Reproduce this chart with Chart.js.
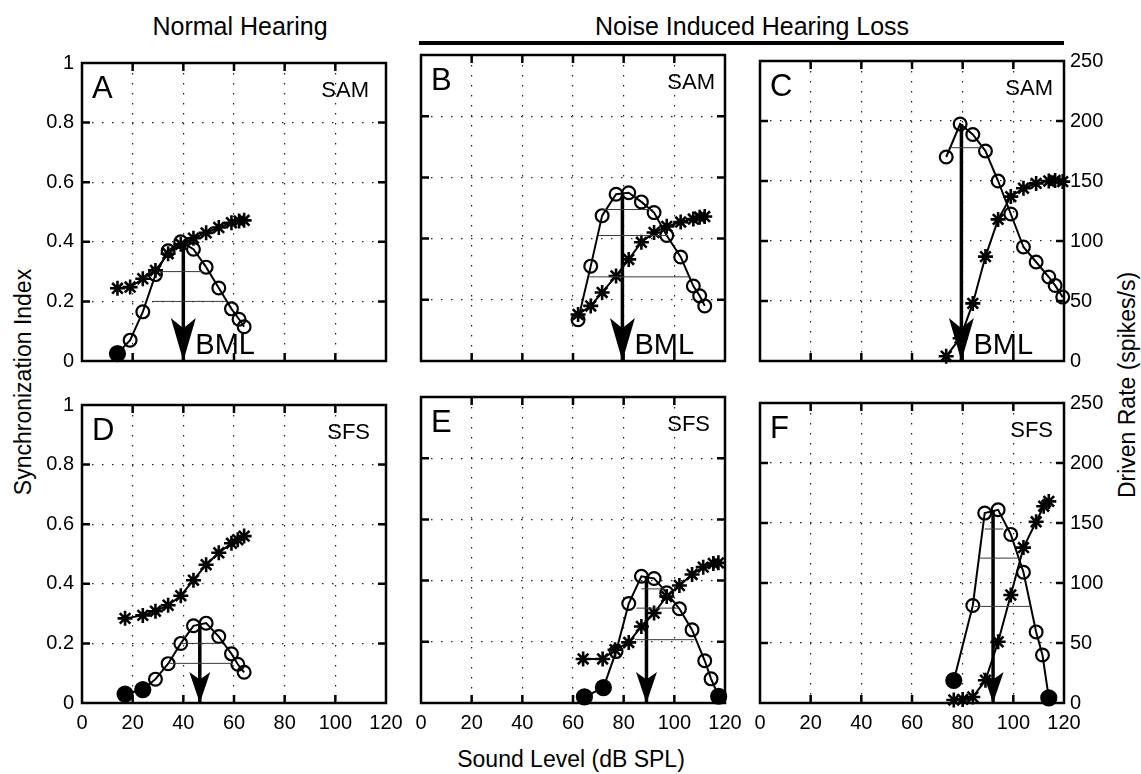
<!DOCTYPE html>
<html>
<head>
<meta charset="utf-8">
<title>Synchronization index and driven rate vs sound level</title>
<script src="https://cdn.jsdelivr.net/npm/chart.js@4.4.1/dist/chart.umd.min.js"></script>
<style>
  html, body { margin: 0; padding: 0; background: #fff; }
  #fig { position: relative; width: 1141px; height: 774px; overflow: hidden;
         font-family: "Liberation Sans", Arial, Helvetica, sans-serif; color: #000; background: #fff; }
  #fig canvas { position: absolute; }
  .lbl { position: absolute; white-space: nowrap; line-height: 1; transform: translate(-50%, -50%); }
  .rot { transform: translate(-50%, -50%) rotate(-90deg); }
  #nihl-bar { position: absolute; left: 419px; top: 41px; width: 645px; height: 4px; background: #000; }
</style>
</head>
<body>
<div id="fig">
  <div class="lbl" style="left:240px; top:26px; font-size:25px;">Normal Hearing</div>
  <div class="lbl" style="left:752px; top:26px; font-size:25px;">Noise Induced Hearing Loss</div>
  <div id="nihl-bar"></div>
  <div class="lbl rot" style="left:23px; top:382px; font-size:23px;">Synchronization Index</div>
  <div class="lbl rot" style="left:1127px; top:385px; font-size:23px;">Driven Rate (spikes/s)</div>
  <div class="lbl" style="left:571px; top:759px; font-size:23px;">Sound Level (dB SPL)</div>
</div>
<script>
// ---- axis ticks ----
const levelTicks = [0, 20, 40, 60, 80, 100, 120];      // dB SPL
const syncTicks  = [0, 0.2, 0.4, 0.6, 0.8, 1];          // synchronization index
const rateTicks  = [0, 50, 100, 150, 200, 250];         // spikes/s

// ---- A: normal hearing, SAM ----
const levelA = [14, 19, 24, 29, 34, 39, 44, 49, 54, 59, 62, 64];
const syncA  = [0.025, 0.07, 0.165, 0.29, 0.37, 0.40, 0.375, 0.315, 0.245, 0.175, 0.14, 0.115];
const rateA  = [61, 62, 69, 76, 90, 98, 103, 107.5, 112, 116, 117.5, 118];
const solidA = [0];
const halfA  = [[0.30, 31, 48], [0.20, 28, 57]];

// ---- B: noise induced hearing loss, SAM ----
const levelB = [62, 67, 71.5, 77, 82, 87, 92, 97, 102.5, 107.5, 110, 112];
const syncB  = [0.135, 0.31, 0.475, 0.545, 0.55, 0.52, 0.485, 0.41, 0.34, 0.245, 0.213, 0.18];
const rateB  = [38, 45, 56, 69.5, 83, 97, 105, 110, 113.5, 116, 117.5, 118];
const solidB = [];
const halfB  = [[0.495, 72, 91.5], [0.41, 70, 97], [0.275, 66.5, 106.5]];

// ---- C: noise induced hearing loss, SAM ----
const levelC = [73.5, 79, 84, 89, 94, 99, 104, 109, 114, 116.5, 119.5];
const syncC  = [0.68, 0.79, 0.755, 0.70, 0.60, 0.49, 0.38, 0.33, 0.28, 0.252, 0.213];
const rateC  = [4, 19, 48, 87, 118, 137, 144, 148, 150, 150.5, 149.5];
const solidC = [];
const halfC  = [[0.711, 75, 88]];

// ---- D: normal hearing, SFS ----
const levelD = [17, 24, 29, 34, 39, 44, 49, 54, 59, 61.5, 64];
const syncD  = [0.03, 0.045, 0.08, 0.132, 0.20, 0.259, 0.268, 0.223, 0.165, 0.13, 0.103];
const rateD  = [71, 73.5, 77, 82, 90, 103, 116, 126, 134, 137, 140];
const solidD = [0, 1];
const halfD  = [[0.20, 39, 54.5], [0.133, 34.5, 59.4]];

// ---- E: noise induced hearing loss, SFS ----
const levelE     = [64.5, 72, 77, 82, 87, 92, 97, 102, 107, 112, 114.5, 117.5];
const syncE      = [0.02, 0.05, 0.168, 0.325, 0.414, 0.407, 0.36, 0.308, 0.239, 0.138, 0.079, 0.022];
const rateLevelE = [64, 71.7, 76.6, 82, 87, 92, 97, 102, 107, 111.4, 115.4, 117.4];
const rateE      = [36, 36, 43.5, 49.5, 62.5, 73.5, 87, 96, 105, 111, 114, 114.5];
const solidE     = [0, 1, 11];
const halfE      = [[0.373, 87, 96], [0.31, 85, 101.4], [0.207, 84.4, 108]];

// ---- F: noise induced hearing loss, SFS ----
const levelF     = [76.5, 84, 88.7, 94, 99, 104, 109, 111.5, 114];
const syncF      = [0.075, 0.325, 0.633, 0.644, 0.562, 0.436, 0.237, 0.16, 0.017];
const rateLevelF = [76.5, 80, 84, 89, 94, 99, 104, 109, 112, 114];
const rateF      = [2.5, 3, 5, 19, 51, 90, 129.5, 151, 164, 168];
const solidF     = [0, 8];
const halfF      = [[0.58, 88.7, 96], [0.483, 86.5, 102.4], [0.322, 84.7, 106.6]];

// ---- best modulation level (arrow) per panel A..F ----
const bmlLevel = [40, 79.5, 79.5, 46.5, 89, 92];
const bmlPeak  = [0.40, 0.55, 0.79, 0.26, 0.414, 0.64];

// ---- panel layout ----
const FONT = '"Liberation Sans", Arial, Helvetica, sans-serif';
const colLeft = [82, 421, 760];
const rowTop  = [55, 397];
const PW = 304, PH = 306;
const PAD_L = 80, PAD_R = 80, PAD_T = 12, PAD_B = 48;

const panels = [
  { letter: 'A', stim: 'SAM', col: 0, row: 0, sx: levelA, sy: syncA, rx: levelA,     ry: rateA, solid: solidA, half: halfA, bmlText: true,  stimInset: 17 },
  { letter: 'B', stim: 'SAM', col: 1, row: 0, sx: levelB, sy: syncB, rx: levelB,     ry: rateB, solid: solidB, half: halfB, bmlText: true,  stimInset: 10 },
  { letter: 'C', stim: 'SAM', col: 2, row: 0, sx: levelC, sy: syncC, rx: levelC,     ry: rateC, solid: solidC, half: halfC, bmlText: true,  stimInset: 11 },
  { letter: 'D', stim: 'SFS', col: 0, row: 1, sx: levelD, sy: syncD, rx: levelD,     ry: rateD, solid: solidD, half: halfD, bmlText: false, stimInset: 16 },
  { letter: 'E', stim: 'SFS', col: 1, row: 1, sx: levelE, sy: syncE, rx: rateLevelE, ry: rateE, solid: solidE, half: halfE, bmlText: false, stimInset: 15 },
  { letter: 'F', stim: 'SFS', col: 2, row: 1, sx: levelF, sy: syncF, rx: rateLevelF, ry: rateF, solid: solidF, half: halfF, bmlText: false, stimInset: 11 }
];

// Box, inward tick marks, BML arrowhead and panel annotations
const panelDecor = {
  id: 'panelDecor',
  beforeDatasetsDraw(chart) {
    const { ctx, chartArea: a, scales } = chart;
    const len = 8;
    ctx.save();
    ctx.strokeStyle = '#000';
    ctx.lineWidth = 2.5;
    ctx.beginPath();
    scales.x.ticks.forEach(t => {
      const px = scales.x.getPixelForValue(t.value);
      if (px <= a.left + 1 || px >= a.right - 1) return;
      ctx.moveTo(px, a.bottom); ctx.lineTo(px, a.bottom - len);
      ctx.moveTo(px, a.top);    ctx.lineTo(px, a.top + len);
    });
    scales.y.ticks.forEach(t => {
      const py = scales.y.getPixelForValue(t.value);
      if (py <= a.top + 1 || py >= a.bottom - 1) return;
      ctx.moveTo(a.left, py);  ctx.lineTo(a.left + len, py);
      ctx.moveTo(a.right, py); ctx.lineTo(a.right - len, py);
    });
    ctx.stroke();
    ctx.strokeRect(a.left, a.top, a.width, a.height);
    ctx.restore();
  },
  afterDatasetsDraw(chart, args, opts) {
    const { ctx, chartArea: a, scales } = chart;
    ctx.save();
    // arrowhead at the bottom of the BML shaft
    const x0 = scales.x.getPixelForValue(opts.bml);
    const y0 = scales.y.getPixelForValue(0);
    const hl = opts.headLen, hw = opts.headHalf;
    ctx.fillStyle = '#000';
    ctx.beginPath();
    ctx.moveTo(x0, y0);
    ctx.lineTo(x0 - hw, y0 - hl);
    ctx.lineTo(x0, y0 - hl * 0.76);
    ctx.lineTo(x0 + hw, y0 - hl);
    ctx.closePath();
    ctx.fill();
    ctx.textBaseline = 'alphabetic';
    if (opts.bmlText) {
      ctx.font = '29px ' + FONT;
      ctx.textAlign = 'left';
      ctx.fillText('BML', x0 + 12, y0 - 7);
    }
    ctx.font = '31px ' + FONT;
    ctx.textAlign = 'left';
    ctx.fillText(opts.letter, a.left + 10, a.top + 35);
    ctx.font = '22px ' + FONT;
    ctx.textAlign = 'right';
    ctx.fillText(opts.stim, a.right - opts.stimInset, a.top + 34);
    ctx.restore();
  }
};

const fig = document.getElementById('fig');
const plainNumber = v => String(+Number(v).toFixed(2));

panels.forEach((p, idx) => {
  const canvas = document.createElement('canvas');
  const W = PW + PAD_L + PAD_R, H = PH + PAD_T + PAD_B;
  canvas.width = W; canvas.height = H;
  canvas.style.left = (colLeft[p.col] - PAD_L) + 'px';
  canvas.style.top = (rowTop[p.row] - PAD_T) + 'px';
  canvas.style.width = W + 'px'; canvas.style.height = H + 'px';
  fig.appendChild(canvas);

  const showX = p.row === 1;
  const showLeft = p.col === 0;
  const showRight = p.col === 2;
  const top = p.row === 0;

  const datasets = [];
  p.half.forEach(h => datasets.push({
    data: [{ x: h[1], y: h[0] }, { x: h[2], y: h[0] }],
    yAxisID: 'y', borderColor: '#3a3a3a', borderWidth: 1, pointRadius: 0, clip: false
  }));
  datasets.push({
    data: p.sx.map((x, i) => ({ x, y: p.sy[i] })),
    yAxisID: 'y', borderColor: '#000', borderWidth: 2, clip: false,
    pointStyle: 'circle',
    pointRadius: p.sy.map((_, i) => p.solid.includes(i) ? 7.5 : 6.4),
    pointBorderWidth: 2.2, pointBorderColor: '#000',
    pointBackgroundColor: p.sy.map((_, i) => p.solid.includes(i) ? '#000' : 'rgba(0,0,0,0)')
  });
  datasets.push({
    data: p.rx.map((x, i) => ({ x, y: p.ry[i] })),
    yAxisID: 'y2', borderColor: '#000', borderWidth: 2, clip: false,
    pointStyle: 'star', pointRadius: 7.5, pointBorderWidth: 2.6,
    pointBorderColor: '#000', pointBackgroundColor: '#000'
  });
  datasets.push({
    data: [{ x: bmlLevel[idx], y: bmlPeak[idx] }, { x: bmlLevel[idx], y: 0 }],
    yAxisID: 'y', borderColor: '#000', borderWidth: 3.5, pointRadius: 0, clip: false
  });

  const tickFont = { family: FONT, size: 20 };
  new Chart(canvas, {
    type: 'line',
    data: { datasets },
    options: {
      responsive: false, maintainAspectRatio: false, animation: false,
      devicePixelRatio: 1,
      layout: { padding: { top: PAD_T, left: 0, right: 0, bottom: 0 } },
      plugins: {
        legend: { display: false }, tooltip: { enabled: false },
        panelDecor: {
          letter: p.letter, stim: p.stim, stimInset: p.stimInset,
          bml: bmlLevel[idx], bmlText: p.bmlText,
          headLen: top ? 43 : 31, headHalf: top ? 12.5 : 10.5
        }
      },
      scales: {
        x: {
          type: 'linear', position: 'bottom', min: 0, max: 120,
          afterBuildTicks: s => { s.ticks = levelTicks.map(v => ({ value: v })); },
          ticks: { display: showX, font: tickFont, color: '#000', padding: 8, maxRotation: 0, autoSkip: false, callback: plainNumber },
          grid: { color: '#222', lineWidth: 1.2, drawTicks: false },
          border: { display: false, dash: [1.5, 8.5] },
          afterFit: s => { s.height = PAD_B; }
        },
        y: {
          type: 'linear', position: 'left', min: 0, max: 1,
          afterBuildTicks: s => { s.ticks = syncTicks.map(v => ({ value: v })); },
          ticks: { display: showLeft, font: tickFont, color: '#000', padding: 8, callback: plainNumber },
          grid: { color: '#222', lineWidth: 1.2, drawTicks: false },
          border: { display: false, dash: [1.5, 8.5] },
          afterFit: s => { s.width = PAD_L; }
        },
        y2: {
          type: 'linear', position: 'right', min: 0, max: 250,
          afterBuildTicks: s => { s.ticks = rateTicks.map(v => ({ value: v })); },
          ticks: { display: showRight, font: tickFont, color: '#000', padding: 6, callback: plainNumber },
          grid: { display: false, drawTicks: false },
          border: { display: false },
          afterFit: s => { s.width = PAD_R; }
        }
      }
    },
    plugins: [panelDecor]
  });
});
</script>
</body>
</html>
